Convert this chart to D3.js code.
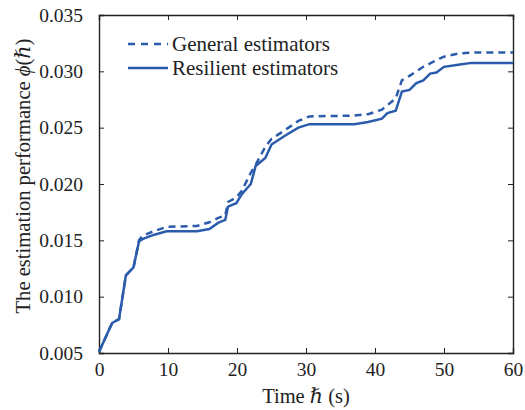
<!DOCTYPE html>
<html>
<head>
<meta charset="utf-8">
<script src="https://cdn.jsdelivr.net/npm/d3@7"></script>
<style>
  html, body { margin: 0; padding: 0; background: #fff; }
  svg { display: block; }
  text { font-family: "Liberation Serif", "Times New Roman", "DejaVu Serif", serif; fill: #222; }
</style>
</head>
<body>
<script>
// Sample times (s)
const time = [0, 1.9, 2.9, 3.9, 5.0, 5.8, 6.3, 7.9, 9.8, 14.2, 16.0, 17.3, 18.3, 18.7, 19.9, 20.7,
  22.0, 22.7, 24.1, 25.0, 27.0, 28.9, 30.5, 37.0, 39.0, 41.0, 41.8, 43.0, 43.9, 45.0, 46.0,
  47.0, 48.0, 48.9, 50.0, 52.3, 54.0, 60];

// Estimation performance of the general estimators
const general = [0.0051, 0.00766, 0.0080, 0.0119, 0.0126, 0.0150, 0.0154, 0.0158, 0.0162, 0.01628,
  0.0166, 0.0170, 0.0172, 0.0184, 0.0188, 0.0194, 0.0210, 0.0217, 0.0233, 0.0240, 0.0248,
  0.0256, 0.0260, 0.02607, 0.0262, 0.0266, 0.0270, 0.0276, 0.0292, 0.0296, 0.0300, 0.0304,
  0.0307, 0.0310, 0.0313, 0.0316, 0.03167, 0.03167];

// Estimation performance of the resilient estimators
const resilient = [0.0051, 0.00766, 0.0080, 0.0119, 0.0126, 0.0149, 0.0151, 0.01548, 0.01581, 0.01581,
  0.0160, 0.01657, 0.01681, 0.0180, 0.0183, 0.0191, 0.0200, 0.0216, 0.0223, 0.0235, 0.0243,
  0.0250, 0.02531, 0.02531, 0.0255, 0.0258, 0.0263, 0.0265, 0.0282, 0.02835, 0.02895, 0.0292,
  0.0298, 0.0299, 0.0304, 0.0306, 0.03075, 0.03075];

const xTicks = [0, 10, 20, 30, 40, 50, 60];
const yTicks = [0.005, 0.010, 0.015, 0.020, 0.025, 0.030, 0.035];

const seriesNames = ["General estimators", "Resilient estimators"];

const W = 525, H = 410;
const margin = { top: 15, right: 12, bottom: 57, left: 99 };
const iw = W - margin.left - margin.right;
const ih = H - margin.top - margin.bottom;
const color = "#2b5cab";
const axisColor = "#222";
const tickFont = 19.5;

const svg = d3.select("body").append("svg").attr("width", W).attr("height", H);
const g = svg.append("g").attr("transform", `translate(${margin.left},${margin.top})`);

const x = d3.scaleLinear().domain([0, 60]).range([0, iw]);
const y = d3.scaleLinear().domain([0.005, 0.035]).range([ih, 0]);

// Axes with inward ticks on all four sides
const tick = 5;
const axBottom = g.append("g").attr("transform", `translate(0,${ih})`)
  .call(d3.axisBottom(x).tickValues(xTicks).tickSize(-tick).tickPadding(9).tickFormat(d3.format("d")));
const axTop = g.append("g")
  .call(d3.axisTop(x).tickValues(xTicks).tickSize(-tick).tickFormat(""));
const axLeft = g.append("g")
  .call(d3.axisLeft(y).tickValues(yTicks).tickSize(-tick).tickPadding(16).tickFormat(d3.format(".3f")));
const axRight = g.append("g").attr("transform", `translate(${iw},0)`)
  .call(d3.axisRight(y).tickValues(yTicks).tickSize(-tick).tickFormat(""));

[axBottom, axTop, axLeft, axRight].forEach(a => {
  a.select(".domain").attr("stroke", axisColor).attr("stroke-width", 1.4);
  a.selectAll(".tick line").attr("stroke", axisColor).attr("stroke-width", 1);
  a.selectAll(".tick text").attr("font-size", tickFont).attr("fill", "#222")
    .style("font-family", '"Liberation Serif", "Times New Roman", serif');
});

// Curves
const line = vals => d3.line().x((d, i) => x(time[i])).y((d) => y(d))(vals);
g.append("path").attr("d", line(general)).attr("fill", "none")
  .attr("stroke", color).attr("stroke-width", 2.5).attr("stroke-dasharray", "7,5");
g.append("path").attr("d", line(resilient)).attr("fill", "none")
  .attr("stroke", color).attr("stroke-width", 2.5);

// Legend
const leg = g.append("g").attr("transform", `translate(${128 - margin.left},${44 - margin.top})`);
seriesNames.forEach((name, i) => {
  const row = leg.append("g").attr("transform", `translate(0,${i * 24})`);
  row.append("line").attr("x1", 0).attr("x2", 40).attr("y1", 0).attr("y2", 0)
    .attr("stroke", color).attr("stroke-width", 2.5)
    .attr("stroke-dasharray", i === 0 ? "7,6" : null);
  row.append("text").attr("x", 44).attr("y", 0).attr("dy", "0.35em")
    .attr("font-size", 21).text(name);
});

// Axis titles
const xl = svg.append("text").attr("x", margin.left + iw / 2).attr("y", 403)
  .attr("text-anchor", "middle").attr("font-size", 20.5);
xl.append("tspan").text("Time ");
xl.append("tspan").attr("font-style", "italic").text("\u210F");
xl.append("tspan").text(" (s)");

const yl = svg.append("text")
  .attr("transform", `translate(30,${176}) rotate(-90)`)
  .attr("text-anchor", "middle").attr("font-size", 20.6);
yl.append("tspan").text("The estimation performance ");
yl.append("tspan").attr("font-style", "italic").text("\u03D5");
yl.append("tspan").text("(");
yl.append("tspan").attr("font-style", "italic").text("\u210F");
yl.append("tspan").text(")");
</script>
</body>
</html>
